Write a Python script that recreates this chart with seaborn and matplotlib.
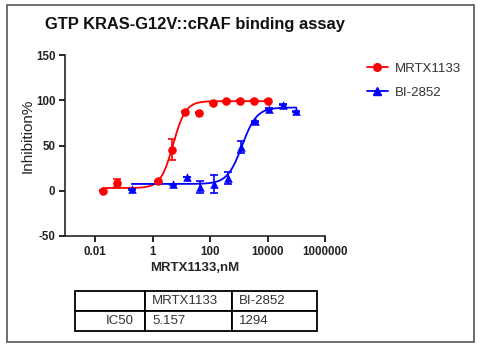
import numpy as np
import pandas as pd
import seaborn as sns
import matplotlib
matplotlib.use("Agg")
import matplotlib.pyplot as plt
from matplotlib.lines import Line2D
from matplotlib.patches import Rectangle

# ---- data -------------------------------------------------------------
conc_mrtx = [0.0188, 0.0565, 1.524, 4.572, 13.72, 41.15, 123.5, 370.4, 1111, 3333, 10000]
inh_mrtx = [0.0, 8.5, 10.3, 45.4, 87.1, 86.0, 97.1, 98.9, 99.5, 99.5, 99.7]
err_mrtx = [0.5, 4.5, 0.5, 11.5, 0.5, 0.5, 0.5, 0.5, 0.5, 0.5, 0.5]

conc_bi = [0.188, 5.08, 15.24, 45.7, 137.2, 411.5, 1235, 3704, 11111, 33333, 100000]
inh_bi = [1.5, 7.4, 15.2, 4.0, 7.4, 14.0, 48.4, 76.7, 90.5, 95.2, 87.8]
err_bi = [0.5, 0.5, 0.5, 7.0, 10.0, 6.5, 6.8, 0.5, 0.5, 0.5, 0.5]

compounds = ["MRTX1133", "BI-2852"]
ic50 = [5.157, 1294]
bottom = [3.0, 7.5]
top = [99.0, 92.0]
hill = [2.0, 1.7]

x_ticks = [0.01, 1, 100, 10000, 1000000]
x_tick_labels = ["0.01", "1", "100", "10000", "1000000"]
y_ticks = [-50, 0, 50, 100, 150]

colors = ["#ff0000", "#0000ff"]
markers = ["o", "^"]

# ---- style ------------------------------------------------------------
sns.set_style("ticks")
plt.rcParams["font.family"] = ["Liberation Sans", "DejaVu Sans"]
plt.rcParams["axes.linewidth"] = 1.2
plt.rcParams["axes.unicode_minus"] = False

W, H = 481, 350
fig = plt.figure(figsize=(W / 100, H / 100), dpi=100)

def fx(px):
    return px / W

def fy(py):
    return 1 - py / H

ax = fig.add_axes([fx(65), fy(236), fx(325) - fx(65), fy(55) - fy(236)])

def four_pl(x, b, t, c, h):
    return b + (t - b) / (1 + (c / x) ** h)

points = []
curves = []
for name, xs, ys, es, c, b, t, h in [
    (compounds[0], conc_mrtx, inh_mrtx, err_mrtx, ic50[0], bottom[0], top[0], hill[0]),
    (compounds[1], conc_bi, inh_bi, err_bi, ic50[1], bottom[1], top[1], hill[1]),
]:
    points.append(pd.DataFrame({"compound": name, "conc": xs, "inh": ys, "err": es}))
    xf = np.logspace(np.log10(xs[0]), np.log10(xs[-1]), 300)
    curves.append(pd.DataFrame({"compound": name, "conc": xf,
                                "inh": four_pl(xf, b, t, c, h)}))
points = pd.concat(points, ignore_index=True)
curves = pd.concat(curves, ignore_index=True)
palette = dict(zip(compounds, colors))

sns.lineplot(data=curves, x="conc", y="inh", hue="compound", palette=palette,
             linewidth=1.3, legend=False, ax=ax, estimator=None)

for name, col, mk in zip(compounds, colors, markers):
    d = points[points["compound"] == name]
    ax.errorbar(d["conc"], d["inh"], yerr=d["err"], fmt="none", ecolor=col,
                elinewidth=1.2, capsize=3.2, capthick=1.2, zorder=3)
    sns.scatterplot(data=d, x="conc", y="inh", color=col, marker=mk, s=38,
                    edgecolor=col, linewidth=0, ax=ax, zorder=4, legend=False)

ax.set_xscale("log")
ax.set_xlim(10 ** -3.05, 1e6)
ax.set_ylim(-50, 150)
ax.set_xticks(x_ticks)
ax.set_xticklabels(x_tick_labels)
ax.xaxis.set_minor_locator(matplotlib.ticker.NullLocator())
ax.set_yticks(y_ticks)
ax.tick_params(axis="both", length=4, width=1.2, labelsize=8.3, pad=3, colors="black")
for lab in ax.get_xticklabels() + ax.get_yticklabels():
    lab.set_fontweight("bold")
    lab.set_color("#222222")
sns.despine(ax=ax)
ax.set_xlabel("MRTX1133,nM", fontsize=9.5, fontweight="bold", labelpad=3)
ax.set_ylabel("")
fig.text(fx(28), fy(136), "Inhibition%", rotation=90, ha="center", va="center",
         fontsize=11, color="#222222")

fig.text(fx(45), fy(25), "GTP KRAS-G12V::cRAF binding assay", fontsize=11.9,
         fontweight="bold", ha="left", va="center", color="#111111")

# legend
handles = [Line2D([0], [0], color=c, marker=m, markersize=5.5, linewidth=1.3)
           for c, m in zip(colors, markers)]
fig.legend(handles, compounds, loc="upper left", bbox_to_anchor=(fx(355), fy(51)),
           frameon=False, fontsize=9.5, handlelength=1.6, labelspacing=0.85,
           handletextpad=0.5, labelcolor="#333333")

# IC50 table
col_px = [70, 87, 85]
tax = fig.add_axes([fx(75), fy(331), fx(317) - fx(75), fy(291) - fy(331)])
tax.axis("off")
cell_text = [["", compounds[0], compounds[1]],
             ["IC50", f"{ic50[0]:.3f}", f"{ic50[1]:d}"]]
tbl = tax.table(cellText=cell_text, colWidths=col_px, bbox=[0, 0, 1, 1],
                cellLoc="left")
tbl.auto_set_font_size(False)
for (r, c), cell in tbl.get_celld().items():
    cell.set_linewidth(1.3)
    cell.set_edgecolor("black")
    cell.get_text().set_fontsize(9.5)
    cell.get_text().set_color("#333333")
    if c == 0:
        cell.PAD = 11 / col_px[0]
        cell._loc = "right"
        cell.get_text().set_ha("right")
    else:
        cell.PAD = 7 / col_px[c]

# outer frame
fig.patches.append(Rectangle((fx(7), fy(342)), fx(474) - fx(7), fy(5) - fy(342),
                             transform=fig.transFigure, fill=False,
                             edgecolor="#555555", linewidth=1.2))

fig.savefig("out.png", dpi=100)
